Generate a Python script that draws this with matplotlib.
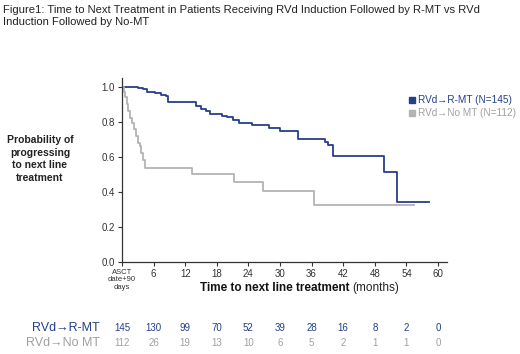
import matplotlib
matplotlib.use('Agg')
import matplotlib.pyplot as plt
from matplotlib.lines import Line2D
import matplotlib.transforms as mtransforms

plt.rcParams['font.family'] = ['Liberation Sans', 'DejaVu Sans']

# Kaplan-Meier style step data (months, probability)
rmt_t = [0, 3.0, 4.0, 4.7, 6.2, 7.5, 8.4, 8.8, 14.0, 15.0, 16.0, 16.8, 19.0, 20.0,
         21.0, 22.2, 24.7, 28.0, 30.0, 33.5, 38.5, 39.2, 40.0, 49.7, 52.2, 58.3]
rmt_s = [1.0, 0.99, 0.985, 0.97, 0.965, 0.955, 0.945, 0.91, 0.89, 0.875, 0.86, 0.845,
         0.835, 0.825, 0.81, 0.795, 0.78, 0.765, 0.745, 0.70, 0.685, 0.665, 0.605,
         0.515, 0.343, 0.343]
nomt_t = [0, 0.3, 0.6, 0.9, 1.2, 1.5, 1.9, 2.2, 2.6, 3.0, 3.4, 3.7, 4.0, 4.4,
          13.3, 21.3, 26.8, 36.5, 55.4]
nomt_s = [1.0, 0.97, 0.94, 0.90, 0.86, 0.82, 0.79, 0.76, 0.72, 0.68, 0.66, 0.62,
          0.58, 0.535, 0.50, 0.458, 0.406, 0.323, 0.323]

# numbers at risk
risk_months = [0, 6, 12, 18, 24, 30, 36, 42, 48, 54, 60]
risk_rmt = [145, 130, 99, 70, 52, 39, 28, 16, 8, 2, 0]
risk_nomt = [112, 26, 19, 13, 10, 6, 5, 2, 1, 1, 0]

tick_labels = ['ASCT\ndate+90\ndays', '6', '12', '18', '24', '30', '36', '42',
               '48', '54', '60']

navy = '#253f8a'
grey = '#b3b3b3'

fig = plt.figure(figsize=(5.2, 3.54), dpi=100)
ax = fig.add_axes([0.2346, 0.260, 0.625, 0.520])

ax.step(rmt_t, rmt_s, where='post', color=navy, lw=1.3)
ax.step(nomt_t, nomt_s, where='post', color=grey, lw=1.3)

ax.set_xlim(0, 61.7)
ax.set_ylim(0, 1.05)
ax.set_xticks(risk_months)
ax.set_xticklabels(tick_labels)
ax.set_yticks([0, 0.2, 0.4, 0.6, 0.8, 1.0])
ax.set_yticklabels(['0.0', '0.2', '0.4', '0.6', '0.8', '1.0'])
ax.tick_params(axis='both', labelsize=7, colors='#333333', length=3, width=0.8, pad=2)
for lbl in ax.get_xticklabels()[:1]:
    lbl.set_fontsize(5.5)
    lbl.set_linespacing(1.1)
for s in ['top', 'right']:
    ax.spines[s].set_visible(False)
for s in ['left', 'bottom']:
    ax.spines[s].set_color('#333333')
    ax.spines[s].set_linewidth(0.9)

# title
fig.text(0.006, 0.985, 'Figure1: Time to Next Treatment in Patients Receiving RVd Induction '
         'Followed by R-MT vs RVd\nInduction Followed by No-MT',
         fontsize=8.1, va='top', ha='left', color='#222222', linespacing=1.15)

# y label
fig.text(40 / 520, 1 - 159 / 354, 'Probability of\nprogressing\nto next line\ntreatment',
         fontsize=7.5, fontweight='bold', ha='center', va='center', color='#222222',
         linespacing=1.35)

# x label: bold part + normal part
fig.text(350 / 520, 1 - 288 / 354, 'Time to next line treatment', fontsize=8.5,
         fontweight='bold', ha='right', va='center', color='#111111')
fig.text(352 / 520, 1 - 288 / 354, '(months)', fontsize=8.5, ha='left', va='center',
         color='#222222')

# legend
handles = [Line2D([], [], marker='s', ls='none', color=navy, markersize=5),
           Line2D([], [], marker='s', ls='none', color=grey, markersize=5)]
fig.legend(handles, ['RVd→R-MT (N=145)', 'RVd→No MT (N=112)'],
           loc='upper left', bbox_to_anchor=(403 / 520, 1 - 90 / 354), frameon=False,
           fontsize=7.2, labelcolor=[navy, '#a0a0a0'], handletextpad=0.2,
           handlelength=0.8, borderpad=0, labelspacing=0.3)

# numbers at risk
trans = mtransforms.blended_transform_factory(ax.transData, fig.transFigure)
y1 = 1 - 328 / 354
y2 = 1 - 343 / 354
fig.text(100 / 520, y1, 'RVd→R-MT', fontsize=9, color=navy, ha='right', va='center')
fig.text(100 / 520, y2, 'RVd→No MT', fontsize=9, color='#a0a0a0', ha='right', va='center')
for m, a, b in zip(risk_months, risk_rmt, risk_nomt):
    ax.text(m, y1, str(a), transform=trans, fontsize=7, color=navy, ha='center',
            va='center', clip_on=False)
    ax.text(m, y2, str(b), transform=trans, fontsize=7, color='#a0a0a0', ha='center',
            va='center', clip_on=False)

fig.savefig('out.png', dpi=100)
